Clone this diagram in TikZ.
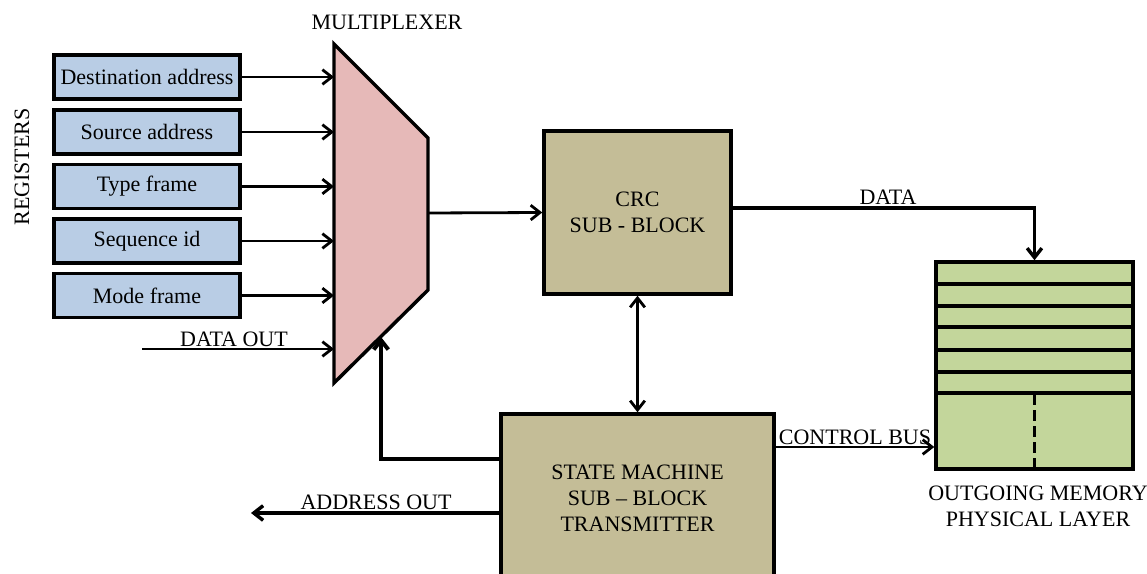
\documentclass[tikz,border=0pt]{standalone}
\usepackage{fontspec}
\setmainfont{Liberation Serif}
\usepackage{xcolor}
\usetikzlibrary{arrows.meta}
\definecolor{regblue}{RGB}{185,205,229}
\definecolor{muxpink}{RGB}{230,185,184}
\definecolor{blocktan}{RGB}{196,189,151}
\definecolor{memgreen}{RGB}{195,214,155}
\tikzset{every picture/.style={line width=0.75pt}}
\tikzset{
  regbox/.style={draw, line width=2.6pt, fill=regblue, minimum width=139.5pt, minimum height=33pt, inner sep=0pt},
  subblock/.style={draw, line width=2.6pt, fill=blocktan, align=center, inner sep=0pt},
  membox/.style={draw, line width=2.6pt, fill=memgreen, minimum width=147.75pt, minimum height=155.25pt, inner sep=0pt},
  wire/.style={line width=2.1pt, -{Straight Barb[length=7pt,width=11pt]}},
  lbl/.style={inner sep=0pt, align=center}
}

\begin{document}
\begin{tikzpicture}[x=0.75pt,y=0.75pt,yscale=-1,xscale=1,font=\fontsize{16.5}{19.5}\selectfont]
    \useasboundingbox (0,0) rectangle (1147,574);
    % multiplexer
    \draw [line width=2.6pt, fill=muxpink, line join=miter] (334,44) -- (428,138) -- (428,290) -- (334,383) -- cycle ;
    \coordinate (muxl) at (334,214);
    \coordinate (muxo) at (428,213);
    \coordinate (muxfb) at (381,337);
    \node (l-mux) [lbl] at (387,22) {MULTIPLEXER};
    % registers
    \node (dst) [regbox] at (147,77) {Destination address};
    \node (src) [regbox] at (147,132) {Source address};
    \node (typ) [regbox] at (147,186.5) {Type frame};
    \node (seq) [regbox] at (147,241) {Sequence id};
    \node (mode) [regbox] at (147,295.5) {Mode frame};
    \node (l-reg) [lbl, rotate=90] at (22,167) {REGISTERS};
    \foreach \r in {dst,src,typ,seq,mode}
      \draw [wire] (\r.east) -- (\r.east -| muxl) ;
    \coordinate (din) at (142,349);
    \draw [wire] (din) -- (din -| muxl) ;
    \node (l-din) [lbl] at (234,339) {DATA OUT};
    % crc and state machine
    \node (crc) [subblock, minimum width=140.25pt, minimum height=122.25pt] at (637.5,212.5) {CRC\\SUB - BLOCK};
    \node (sm) [subblock, minimum width=204.75pt, minimum height=126pt] at (637.5,498) {STATE MACHINE\\SUB -- BLOCK\\TRANSMITTER};
    \draw [wire] (muxo) -- (crc.west) ;
    \draw [wire, {Straight Barb[length=7pt,width=11pt]}-{Straight Barb[length=7pt,width=11pt]}] (crc.south) -- (sm.north) ;
    \draw [wire, line width=3pt, line join=miter] (sm.west |- 0,459) -| (muxfb) ;
    \coordinate (aout) at (251,513);
    \draw [wire, line width=2.6pt] (sm.west |- aout) -- (aout) ;
    \node (l-aout) [lbl] at (376,502) {ADDRESS OUT};
    % outgoing memory
    \node (mem) [membox] at (1034.5,365.5) {};
    \foreach \y in {284,306,327,350,372,393}
      \draw [line width=2.6pt] (mem.west |- 0,\y) -- (mem.east |- 0,\y) ;
    \draw [line width=2.2pt, dash pattern={on 8pt off 4pt}] (mem.south |- 0,394) -- (mem.south) ;
    \node (l-mem) [lbl] at (1038,506) {OUTGOING MEMORY\\PHYSICAL LAYER};
    \draw [wire, line width=2.6pt, line join=miter] (crc.east |- 0,208) -| (mem.north) ;
    \node (l-data) [lbl] at (888,197) {DATA};
    \draw [wire] (sm.east |- 0,447) -- (mem.west |- 0,447) ;
    \node (l-cb) [lbl] at (855,437) {CONTROL BUS};
\end{tikzpicture}
\end{document}
